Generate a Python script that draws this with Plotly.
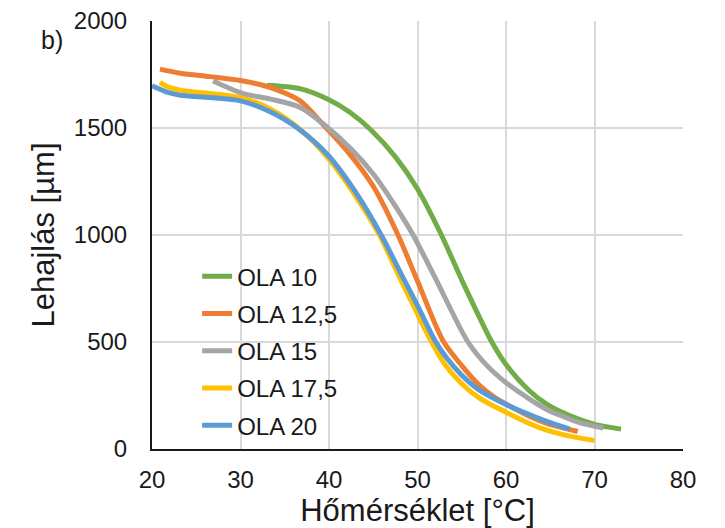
import plotly.graph_objects as go

# OLA 10
t_ola10 = [33, 36.7, 40, 42.4, 44.8, 47.5, 50, 52.7, 55, 58.4, 60, 62.7, 64.6, 66.4, 68.3, 70.1, 73]
d_ola10 = [1700, 1684, 1632, 1572, 1488, 1365, 1215, 1000, 790, 500, 395, 270, 210, 170, 138, 114, 93]

# OLA 12,5
t_ola125 = [20.9, 23.2, 26.5, 30, 33.3, 36.7, 39.5, 42.2, 45, 47.8, 50, 52.9, 55, 57, 58.7, 60, 62.7, 64.6, 68.1]
d_ola125 = [1775, 1756, 1740, 1722, 1690, 1628, 1508, 1385, 1228, 1000, 785, 505, 390, 298, 242, 210, 152, 120, 82]

# OLA 15
t_ola15 = [26.9, 30.3, 33.3, 36.7, 39.3, 42.5, 45, 47.5, 49.5, 52, 55.7, 57.8, 60, 62.7, 64.6, 66.4, 68.3, 71]
d_ola15 = [1720, 1661, 1636, 1597, 1521, 1402, 1285, 1135, 1000, 800, 500, 392, 310, 232, 185, 153, 123, 98]

# OLA 17,5
t_ola175 = [20.9, 21.8, 23.2, 30, 33.3, 36.7, 40, 42.8, 45.7, 48, 50, 51.4, 53, 55, 57, 60, 62.7, 64.6, 67.2, 70]
d_ola175 = [1713, 1692, 1677, 1642, 1590, 1495, 1355, 1195, 1000, 800, 631, 515, 400, 305, 238, 172, 118, 88, 60, 40]

# OLA 20
t_ola20 = [20, 21.8, 23.2, 30, 33.3, 36.7, 40, 43, 45.9, 48, 50, 52, 53.3, 55, 57, 60, 62.7, 64.6, 67.2]
d_ola20 = [1697, 1666, 1653, 1627, 1577, 1492, 1368, 1200, 1000, 830, 670, 505, 425, 345, 275, 208, 160, 129, 93]

series = [
    ("OLA 10", t_ola10, d_ola10, "#70AD47"),
    ("OLA 12,5", t_ola125, d_ola125, "#ED7D31"),
    ("OLA 15", t_ola15, d_ola15, "#A5A5A5"),
    ("OLA 17,5", t_ola175, d_ola175, "#FFC000"),
    ("OLA 20", t_ola20, d_ola20, "#5B9BD5"),
]

x_ticks = [20, 30, 40, 50, 60, 70, 80]
y_ticks = [0, 500, 1000, 1500, 2000]

FONT = "Liberation Sans, Arial, sans-serif"

fig = go.Figure()
for i, (name, t, d, c) in enumerate(series):
    fig.add_trace(go.Scatter(
        x=t, y=d, name=name, mode="lines",
        line=dict(color=c, width=5, shape="spline", smoothing=0.8),
        legendgroup=str(i),
    ))

fig.update_layout(
    width=725, height=528,
    margin=dict(l=152, r=42, t=21, b=79, autoexpand=False),
    paper_bgcolor="white", plot_bgcolor="white",
    font=dict(family=FONT, size=24, color="#1a1a1a"),
    showlegend=True,
    legend=dict(
        x=0.085, y=0.455, xanchor="left", yanchor="top",
        bgcolor="rgba(0,0,0,0)", font=dict(size=24, family=FONT, color="#1a1a1a"),
        traceorder="grouped", tracegroupgap=3, itemwidth=30,
    ),
    annotations=[dict(
        text="b)", xref="paper", yref="paper", x=-0.188, y=0.955,
        xanchor="center", yanchor="middle", showarrow=False,
        font=dict(size=25, family=FONT, color="#1a1a1a"),
    )],
)

fig.update_xaxes(
    range=[20, 80], tickvals=x_ticks, ticktext=[str(v) for v in x_ticks],
    showgrid=True, gridcolor="#D9D9D9", gridwidth=2,
    showline=True, linecolor="#1a1a1a", linewidth=2,
    zeroline=False, ticks="", ticklabelstandoff=8, automargin=False,
    title=dict(text="Hőmérséklet [°C]", font=dict(size=31, family=FONT, color="#1a1a1a"), standoff=0),
)
fig.update_yaxes(
    range=[0, 2000], tickvals=y_ticks, ticktext=[str(v) for v in y_ticks],
    showgrid=True, gridcolor="#D9D9D9", gridwidth=2,
    showline=True, linecolor="#1a1a1a", linewidth=2,
    zeroline=False, ticks="", ticklabelstandoff=18, automargin=False,
    title=dict(text="Lehajlás [µm]", font=dict(size=31, family=FONT, color="#1a1a1a"), standoff=10),
)

fig.write_html("out.html")
